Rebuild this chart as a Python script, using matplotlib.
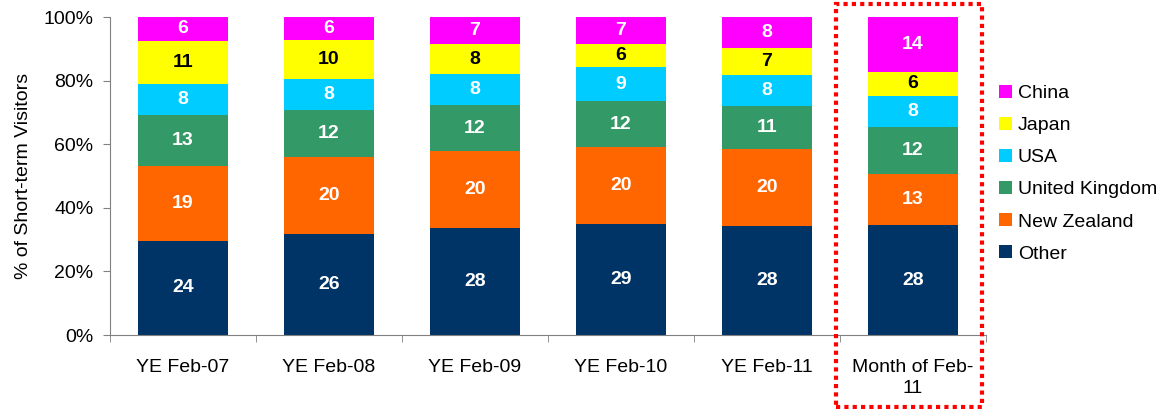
import matplotlib
matplotlib.use("Agg")
import matplotlib.pyplot as plt
from matplotlib.patches import Rectangle
import numpy as np

plt.rcParams['font.family'] = ['Liberation Sans', 'DejaVu Sans']

categories = ["YE Feb-07", "YE Feb-08", "YE Feb-09", "YE Feb-10", "YE Feb-11", "Month of Feb-\n11"]
series_names = ["Other", "New Zealand", "United Kingdom", "USA", "Japan", "China"]
other = [24, 26, 28, 29, 28, 28]
new_zealand = [19, 20, 20, 20, 20, 13]
united_kingdom = [13, 12, 12, 12, 11, 12]
usa = [8, 8, 8, 9, 8, 8]
japan = [11, 10, 8, 6, 7, 6]
china = [6, 6, 7, 7, 8, 14]
yticklabels = ["0%", "20%", "40%", "60%", "80%", "100%"]

series = [other, new_zealand, united_kingdom, usa, japan, china]
colors = ["#003366", "#FF6600", "#339966", "#00CCFF", "#FFFF00", "#FF00FF"]
text_colors = ["white", "white", "white", "white", "black", "white"]

FS = 14

fig = plt.figure(figsize=(11.62, 4.09), dpi=100)
ax = fig.add_axes([110/1162, 1-335/409, 876/1162, 318/409])

data = np.array(series, dtype=float)
totals = data.sum(axis=0)
pct = data / totals * 100
x = np.arange(len(categories))
bottom = np.zeros(len(categories))
handles = []
for i, name in enumerate(series_names):
    b = ax.bar(x, pct[i], 0.62, bottom=bottom, color=colors[i], label=name, linewidth=0)
    handles.append(b)
    for j in range(len(categories)):
        ax.text(x[j], bottom[j] + pct[i][j]/2, f"{int(data[i][j])}", ha='center', va='center',
                color=text_colors[i], fontsize=FS, fontweight='bold')
    bottom += pct[i]

ax.set_xlim(-0.5, len(categories) - 0.5)
ax.set_ylim(0, 100)
ax.set_yticks(np.arange(0, 101, 20))
ax.set_yticklabels(yticklabels, fontsize=FS)
ax.set_xticks(x)
ax.set_xticklabels(categories, fontsize=FS, linespacing=1.3)
ax.tick_params(axis='x', length=0, pad=17)
ax.set_xticks(np.arange(-0.5, len(categories), 1), minor=True)
ax.tick_params(axis='x', which='minor', length=5, color='#808080', direction='out')
ax.tick_params(axis='y', length=5, color='#808080', direction='out', pad=7)
for s in ['top', 'right']:
    ax.spines[s].set_visible(False)
for s in ['left', 'bottom']:
    ax.spines[s].set_color('#808080')
ax.set_ylabel("% of Short-term Visitors", fontsize=FS, labelpad=8)

leg = fig.legend(handles[::-1], series_names[::-1], loc='upper left',
                 bbox_to_anchor=(999/1162, 1-85/409), frameon=False, fontsize=FS,
                 handlelength=0.67, handleheight=0.67, handletextpad=0.3, labelspacing=0.75,
                 borderaxespad=0, borderpad=0)

fig.patches.append(Rectangle((836/1162, 1-407/409), 146/1162, 403/409, transform=fig.transFigure,
                             fill=False, edgecolor='#FF0000', linestyle=(0, (1, 1)), linewidth=3))

fig.savefig("out.png", dpi=100)
